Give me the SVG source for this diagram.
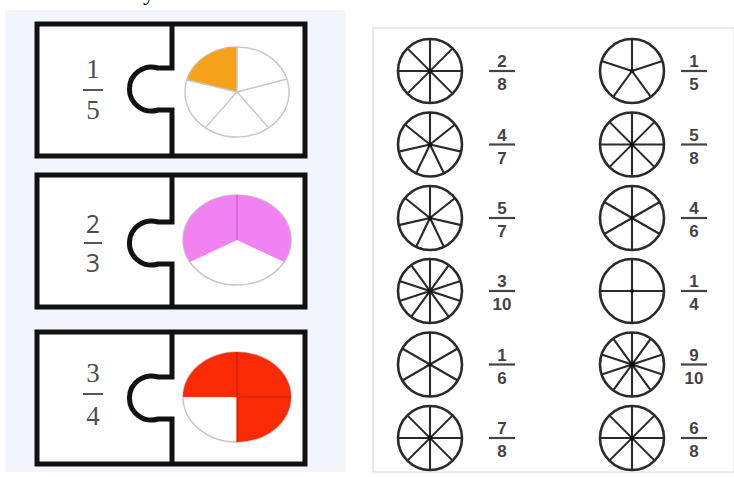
<svg xmlns="http://www.w3.org/2000/svg" width="734" height="477" viewBox="0 0 734 477">
<style>
.frame{fill:#fff;stroke:#111;stroke-width:5}
.seam{fill:none;stroke:#111;stroke-width:5}
.lf{font-size:27px;fill:#4d4d4d;text-anchor:middle}
.serif{font-family:"Liberation Serif","DejaVu Serif",serif}
.sans{font-family:"Open Sans","Liberation Sans",sans-serif;font-size:25px}
.bar{stroke:#555;stroke-width:2}
.pie{fill:#fff;stroke:#c8c8c8;stroke-width:1.5}
.wheel{fill:#fff;stroke:#2a2a2a;stroke-width:2.6}
.spk{fill:none;stroke:#2a2a2a;stroke-width:2.1}
.rf{font-family:"Liberation Sans","DejaVu Sans",sans-serif;font-weight:bold;font-size:17px;fill:#444;text-anchor:middle}
.rbar{stroke:#444;stroke-width:2.2}
</style>
<defs>
<g id="w4"><circle class="wheel" r="32"/><path class="spk" d="M0,-32V32M-32,0H32"/><circle r="2" fill="#111"/></g>
<g id="w5"><circle class="wheel" r="32"/><path class="spk" d="M0,0V-32M0,0L30.43,-9.89M0,0L18.81,25.89M0,0L-18.81,25.89M0,0L-30.43,-9.89"/><circle r="2" fill="#111"/></g>
<g id="w6"><circle class="wheel" r="32"/><path class="spk" d="M0,-32V32M27.71,-16L-27.71,16M27.71,16L-27.71,-16"/><circle r="2" fill="#111"/></g>
<g id="w7"><circle class="wheel" r="32"/><path class="spk" d="M0,0V-32M0,0L25.02,-19.95M0,0L31.2,7.12M0,0L13.88,28.83M0,0L-13.88,28.83M0,0L-31.2,7.12M0,0L-25.02,-19.95"/><circle r="2" fill="#111"/></g>
<g id="w8"><circle class="wheel" r="32"/><path class="spk" d="M0,-32V32M-32,0H32M22.63,-22.63L-22.63,22.63M22.63,22.63L-22.63,-22.63"/><circle r="2.2" fill="#111"/></g>
<g id="w10"><circle class="wheel" r="32"/><path class="spk" d="M0,-32V32M18.81,-25.89L-18.81,25.89M30.43,-9.89L-30.43,9.89M30.43,9.89L-30.43,-9.89M18.81,25.89L-18.81,-25.89"/><circle r="2.4" fill="#111"/></g>
</defs>
<rect width="734" height="477" fill="#fff"/>
<rect x="5" y="10" width="340" height="462" fill="#f2f5fb"/>
<rect x="373" y="28" width="361" height="444" fill="#fff" stroke="#e4e4e4" stroke-width="1.5"/>
<text x="143" y="0" font-family="Liberation Serif,serif" font-size="24" fill="#111">y</text>

<g id="piece1">
<rect class="frame" x="37" y="24" width="268" height="132"/>
<path class="seam" d="M172,24V68H158A22,22 0 1 0 158,110H172V156"/>
<text class="lf serif" x="93" y="78">1</text>
<line class="bar" x1="83" y1="90" x2="103" y2="90"/>
<text class="lf serif" x="93" y="119">5</text>
<ellipse class="pie" cx="237" cy="92" rx="52" ry="45"/>
<path d="M237,92L237,47A52,45 0 0 0 187,80Z" fill="#f7a21b"/>
<path d="M237,92L237,47M237,92L287,79M237,92L268,127M237,92L206,127M237,92L187,80" stroke="#c8c8c8" stroke-width="1.5" fill="none"/>
</g>

<g id="piece2">
<rect class="frame" x="37" y="175" width="268" height="132"/>
<path class="seam" d="M172,175V222H158A22,22 0 1 0 158,264H172V307"/>
<text class="lf sans" x="93" y="233">2</text>
<line class="bar" x1="84" y1="243" x2="102" y2="243"/>
<text class="lf sans" x="93" y="272">3</text>
<ellipse class="pie" cx="237" cy="240" rx="54" ry="45"/>
<path d="M237,240L237,195A54,45 0 0 0 190,262Z M237,240L237,195A54,45 0 0 1 284,262Z" fill="#f282f2"/>
<line x1="237" y1="195" x2="237" y2="240" stroke="#c85ac8" stroke-width="1.2"/>
</g>

<g id="piece3">
<rect class="frame" x="37" y="332" width="268" height="132"/>
<path class="seam" d="M172,332V377H158A22,22 0 1 0 158,419H172V464"/>
<text class="lf serif" x="93" y="382">3</text>
<line class="bar" x1="83" y1="394" x2="103" y2="394"/>
<text class="lf serif" x="93" y="425">4</text>
<ellipse class="pie" cx="237" cy="397" rx="54" ry="45"/>
<path d="M237,397L183,397A54,45 0 1 1 237,442Z" fill="#fa2a05"/>
<path d="M237,352V442M237,397H291" stroke="#d01a00" stroke-width="1.2" fill="none"/>
</g>

<g id="wheels">
<g id="r1c1"><use href="#w8" x="430" y="71"/><text class="rf" x="502" y="67">2</text><line class="rbar" x1="489" y1="71" x2="515" y2="71"/><text class="rf" x="502" y="90">8</text></g>
<g id="r1c2"><use href="#w5" x="632" y="71"/><text class="rf" x="694" y="67">1</text><line class="rbar" x1="681" y1="71" x2="707" y2="71"/><text class="rf" x="694" y="90">5</text></g>
<g id="r2c1"><use href="#w7" x="430" y="144.5"/><text class="rf" x="502" y="140.5">4</text><line class="rbar" x1="489" y1="144.5" x2="515" y2="144.5"/><text class="rf" x="502" y="163.5">7</text></g>
<g id="r2c2"><use href="#w8" x="632" y="144.5"/><text class="rf" x="694" y="140.5">5</text><line class="rbar" x1="681" y1="144.5" x2="707" y2="144.5"/><text class="rf" x="694" y="163.5">8</text></g>
<g id="r3c1"><use href="#w7" x="430" y="218"/><text class="rf" x="502" y="214">5</text><line class="rbar" x1="489" y1="218" x2="515" y2="218"/><text class="rf" x="502" y="237">7</text></g>
<g id="r3c2"><use href="#w6" x="632" y="218"/><text class="rf" x="694" y="214">4</text><line class="rbar" x1="681" y1="218" x2="707" y2="218"/><text class="rf" x="694" y="237">6</text></g>
<g id="r4c1"><use href="#w10" x="430" y="291"/><text class="rf" x="502" y="287">3</text><line class="rbar" x1="489" y1="291" x2="515" y2="291"/><text class="rf" x="502" y="310">10</text></g>
<g id="r4c2"><use href="#w4" x="632" y="291"/><text class="rf" x="694" y="287">1</text><line class="rbar" x1="681" y1="291" x2="707" y2="291"/><text class="rf" x="694" y="310">4</text></g>
<g id="r5c1"><use href="#w6" x="430" y="364.5"/><text class="rf" x="502" y="360.5">1</text><line class="rbar" x1="489" y1="364.5" x2="515" y2="364.5"/><text class="rf" x="502" y="383.5">6</text></g>
<g id="r5c2"><use href="#w10" x="632" y="364.5"/><text class="rf" x="694" y="360.5">9</text><line class="rbar" x1="681" y1="364.5" x2="707" y2="364.5"/><text class="rf" x="694" y="383.5">10</text></g>
<g id="r6c1"><use href="#w8" x="430" y="438"/><text class="rf" x="502" y="434">7</text><line class="rbar" x1="489" y1="438" x2="515" y2="438"/><text class="rf" x="502" y="457">8</text></g>
<g id="r6c2"><use href="#w8" x="632" y="438"/><text class="rf" x="694" y="434">6</text><line class="rbar" x1="681" y1="438" x2="707" y2="438"/><text class="rf" x="694" y="457">8</text></g>
</g>
</svg>
